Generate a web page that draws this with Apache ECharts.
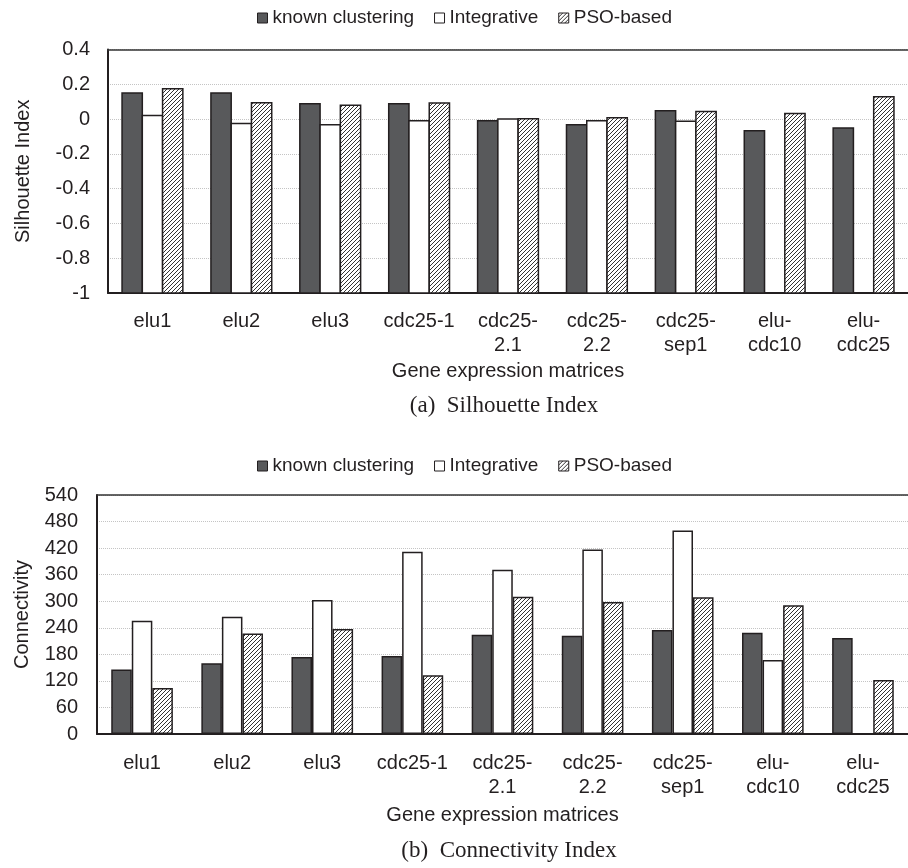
<!DOCTYPE html>
<html>
<head>
<meta charset="utf-8">
<script src="https://cdn.jsdelivr.net/npm/echarts@6/dist/echarts.min.js"></script>
<style>html,body{margin:0;padding:0;background:#fff;}#c{width:908px;height:868px;}</style>
</head>
<body>
<div id="c"></div>
<script>
// ---- data ----
const categories = ['elu1', 'elu2', 'elu3', 'cdc25-1', 'cdc25-\n2.1', 'cdc25-\n2.2', 'cdc25-\nsep1', 'elu-\ncdc10', 'elu-\ncdc25'];
const seriesNames = ['known clustering', 'Integrative', 'PSO-based'];
// (a) Silhouette Index
const silKnown = [0.15, 0.15, 0.088, 0.088, -0.01, -0.032, 0.048, -0.067, -0.051];
const silIntegrative = [0.02, -0.025, -0.033, -0.01, 0.0, -0.01, -0.013, null, null];
const silPSO = [0.175, 0.094, 0.079, 0.093, 0.002, 0.008, 0.044, 0.032, 0.128];
const silTicks = {min: -1, max: 0.4, interval: 0.2};
// (b) Connectivity Index
const conKnown = [146, 160, 174, 176, 224, 222, 235, 229, 217];
const conIntegrative = [256, 265, 303, 412, 371, 417, 460, 167, null];
const conPSO = [104, 227, 237, 133, 310, 298, 309, 291, 122];
const conTicks = {min: 0, max: 540, interval: 60};

// ---- styles ----
const SANS = '"Liberation Sans", Arial, Helvetica, sans-serif';
const SERIF = '"Liberation Serif", "Times New Roman", serif';
const TXT = '#231f20';
const BORDER = '#231f20';
const DARK = '#58595b';

function makeHatch() {
  const s = 4;
  const cv = document.createElement('canvas');
  cv.width = s; cv.height = s;
  const ctx = cv.getContext('2d');
  ctx.fillStyle = '#ffffff';
  ctx.fillRect(0, 0, s, s);
  ctx.strokeStyle = '#333333';
  ctx.lineWidth = 1;
  ctx.beginPath();
  ctx.moveTo(0, s); ctx.lineTo(s, 0);
  ctx.moveTo(-1, 1); ctx.lineTo(1, -1);
  ctx.moveTo(s - 1, s + 1); ctx.lineTo(s + 1, s - 1);
  ctx.stroke();
  return cv;
}
const hatch = {image: makeHatch(), repeat: 'repeat'};
const fills = [DARK, '#ffffff', hatch];
const BAR_FRAC = 0.228;

const chart = echarts.init(document.getElementById('c'), null, {renderer: 'canvas'});

function legendCfg(top) {
  return {
    top: top, left: 257, padding: 0, itemWidth: 10, itemHeight: 10, itemGap: 20,
    icon: 'rect',
    textStyle: {fontFamily: SANS, fontSize: 19, color: TXT, lineHeight: 20},
    data: seriesNames.map((n, i) => ({name: n, itemStyle: {color: fills[i], borderColor: BORDER, borderWidth: 1}}))
  };
}

function silCustom(values, k) {
  return {
    type: 'custom',
    name: seriesNames[k],
    xAxisIndex: 0, yAxisIndex: 0,
    itemStyle: {color: fills[k], borderColor: BORDER, borderWidth: 1.5},
    encode: {x: 0, y: 1},
    data: values.map((v, i) => [i, v]).filter(d => d[1] !== null),
    renderItem: function (params, api) {
      const idx = api.value(0), val = api.value(1);
      const band = api.size([1, 0])[0];
      const w = band * BAR_FRAC;
      const top = api.coord([idx, val]);
      const base = api.coord([idx, silTicks.min]);
      const x = top[0] + (k - 1) * w - w / 2;
      return {
        type: 'rect',
        shape: {x: x, y: top[1], width: w, height: base[1] - top[1]},
        style: {fill: fills[k], stroke: BORDER, lineWidth: 1.5}
      };
    }
  };
}

function conBar(values, k) {
  return {
    type: 'bar',
    name: seriesNames[k],
    xAxisIndex: 2, yAxisIndex: 1,
    barGap: '0%', barCategoryGap: '31.6%',
    itemStyle: {color: fills[k], borderColor: BORDER, borderWidth: 1.5},
    data: values
  };
}

const xLabel = {fontFamily: SANS, fontSize: 20, color: TXT, lineHeight: 24, interval: 0};
const yLabel = {fontFamily: SANS, fontSize: 20, color: TXT};
const split = {show: true, lineStyle: {color: '#c4c4c4', type: 'dotted', width: 1}};
const axisName = {fontFamily: SANS, fontSize: 20, color: TXT};

chart.setOption({
  backgroundColor: '#ffffff',
  animation: false,
  legend: [legendCfg(8), legendCfg(456)],
  grid: [
    {left: 108, right: 0, top: 49.5, height: 243.5, containLabel: false},
    {left: 97, right: 0, top: 495, height: 239, containLabel: false}
  ],
  xAxis: [
    {type: 'category', gridIndex: 0, data: categories, position: 'bottom',
      axisLine: {onZero: false, lineStyle: {color: BORDER, width: 2}}, axisTick: {show: false},
      axisLabel: Object.assign({margin: 16}, xLabel),
      name: 'Gene expression matrices', nameLocation: 'middle', nameGap: 68, nameTextStyle: axisName},
    {type: 'category', gridIndex: 0, data: categories, position: 'top',
      axisLine: {onZero: false, lineStyle: {color: '#333', width: 1.5}}, axisTick: {show: false}, axisLabel: {show: false}},
    {type: 'category', gridIndex: 1, data: categories, position: 'bottom',
      axisLine: {onZero: false, lineStyle: {color: BORDER, width: 2}}, axisTick: {show: false},
      axisLabel: Object.assign({margin: 17}, xLabel),
      name: 'Gene expression matrices', nameLocation: 'middle', nameGap: 71, nameTextStyle: axisName},
    {type: 'category', gridIndex: 1, data: categories, position: 'top',
      axisLine: {onZero: false, lineStyle: {color: '#333', width: 1.5}}, axisTick: {show: false}, axisLabel: {show: false}}
  ],
  yAxis: [
    {type: 'value', gridIndex: 0, min: silTicks.min, max: silTicks.max, interval: silTicks.interval,
      axisLine: {show: true, lineStyle: {color: BORDER, width: 2}}, axisTick: {show: false},
      axisLabel: Object.assign({margin: 18}, yLabel), splitLine: split,
      name: 'Silhouette Index', nameLocation: 'middle', nameGap: 75, nameTextStyle: axisName},
    {type: 'value', gridIndex: 1, min: conTicks.min, max: conTicks.max, interval: conTicks.interval,
      axisLine: {show: true, lineStyle: {color: BORDER, width: 2}}, axisTick: {show: false},
      axisLabel: Object.assign({margin: 19}, yLabel), splitLine: split,
      name: 'Connectivity', nameLocation: 'middle', nameGap: 65, nameTextStyle: axisName}
  ],
  graphic: [
    {type: 'text', x: 504, y: 406, style: {text: '(a)  Silhouette Index', font: '23px ' + SERIF, fill: TXT, align: 'center', verticalAlign: 'middle'}},
    {type: 'text', x: 509, y: 851, style: {text: '(b)  Connectivity Index', font: '23px ' + SERIF, fill: TXT, align: 'center', verticalAlign: 'middle'}}
  ],
  series: [
    silCustom(silKnown, 0), silCustom(silIntegrative, 1), silCustom(silPSO, 2),
    conBar(conKnown, 0), conBar(conIntegrative, 1), conBar(conPSO, 2)
  ]
});
</script>
</body>
</html>
